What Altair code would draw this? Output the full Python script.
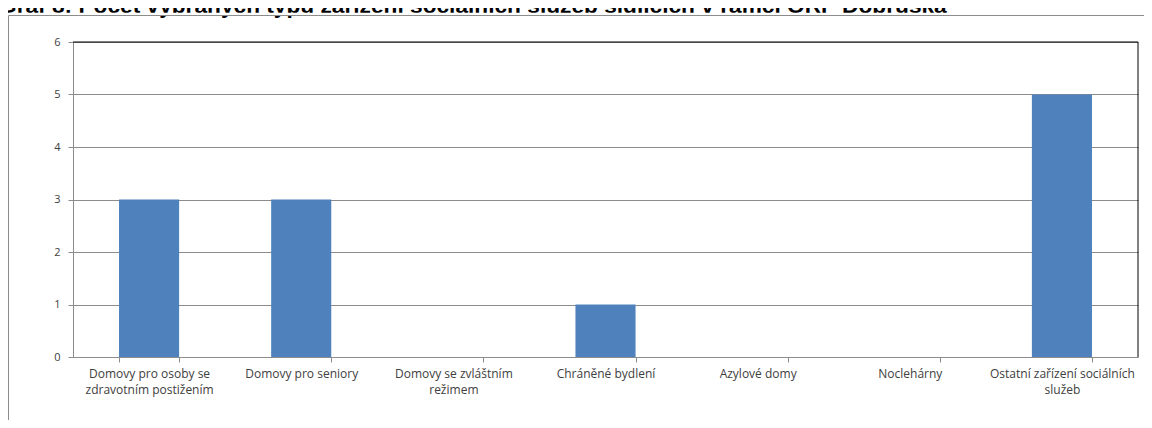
import altair as alt
import pandas as pd

title_text = "Graf 8: Počet vybraných typů zařízení sociálních služeb sídlících v rámci ORP Dobruška"
categories = [
    "Domovy pro osoby se\nzdravotním postižením",
    "Domovy pro seniory",
    "Domovy se zvláštním\nrežimem",
    "Chráněné bydlení",
    "Azylové domy",
    "Noclehárny",
    "Ostatní zařízení sociálních\nslužeb",
]
values = [3, 3, 0, 1, 0, 0, 5]
y_ticks = [0, 1, 2, 3, 4, 5, 6]

W, H = 1065, 315
GRAY = "#8c8c8c"
LABEL = "#404040"
FONT = "Open Sans"

df = pd.DataFrame({"cat": categories, "val": values})
one = pd.DataFrame({"t": [title_text]})

title = alt.Chart(one).mark_text(
    align="left", baseline="alphabetic", font="Liberation Sans", fontWeight="bold",
    fontSize=22.7, color="#000000"
).encode(text="t:N", x=alt.value(-74), y=alt.value(-29.5))

# the reference screenshot cuts the title just below its baseline
whiteout = alt.Chart(one).mark_rect(color="#ffffff").encode(
    x=alt.value(-80), x2=alt.value(1300), y=alt.value(-29.3), y2=alt.value(-26.8)
)

frame = alt.Chart(one).mark_rect(filled=False, stroke=GRAY, strokeWidth=1).encode(
    x=alt.value(-64.5), x2=alt.value(1300), y=alt.value(-26.5), y2=alt.value(600)
)

bars = alt.Chart(df).mark_bar(color="#4F81BD").encode(
    x=alt.X(
        "cat:N",
        sort=categories,
        scale=alt.Scale(paddingInner=0.605, paddingOuter=0.3025),
        axis=alt.Axis(
            title=None,
            labelAngle=0,
            labelExpr="split(datum.label, '\\n')",
            tickBand="extent",
            tickSize=5,
            tickColor=GRAY,
            domainColor=GRAY,
            labelFont=FONT,
            labelFontSize=12,
            labelColor=LABEL,
            labelPadding=6,
            labelLineHeight=16,
            labelBaseline="top",
            labelLimit=300,
        ),
    ),
    y=alt.Y(
        "val:Q",
        scale=alt.Scale(domain=[0, 6], nice=False),
        axis=alt.Axis(
            title=None,
            values=y_ticks,
            format="d",
            grid=True,
            gridColor=GRAY,
            tickSize=5,
            tickColor=GRAY,
            domainColor=GRAY,
            labelFont=FONT,
            labelFontSize=11,
            labelColor=LABEL,
            labelPadding=8,
        ),
    ),
)

top_rule = alt.Chart(one).mark_rule(color="#000000", strokeWidth=1).encode(
    x=alt.value(0), x2=alt.value(W), y=alt.value(0)
)
right_rule = alt.Chart(one).mark_rule(color="#000000", strokeWidth=1).encode(
    x=alt.value(W), y=alt.value(0), y2=alt.value(H)
)

chart = alt.layer(title, whiteout, frame, bars, top_rule, right_rule).properties(
    width=W,
    height=H,
    autosize=alt.AutoSizeParams(type="none"),
    padding={"left": 65, "top": 34, "right": 6, "bottom": 63},
).configure_view(strokeWidth=0)

chart.save("out.html", embed_options={"renderer": "svg", "actions": False})
